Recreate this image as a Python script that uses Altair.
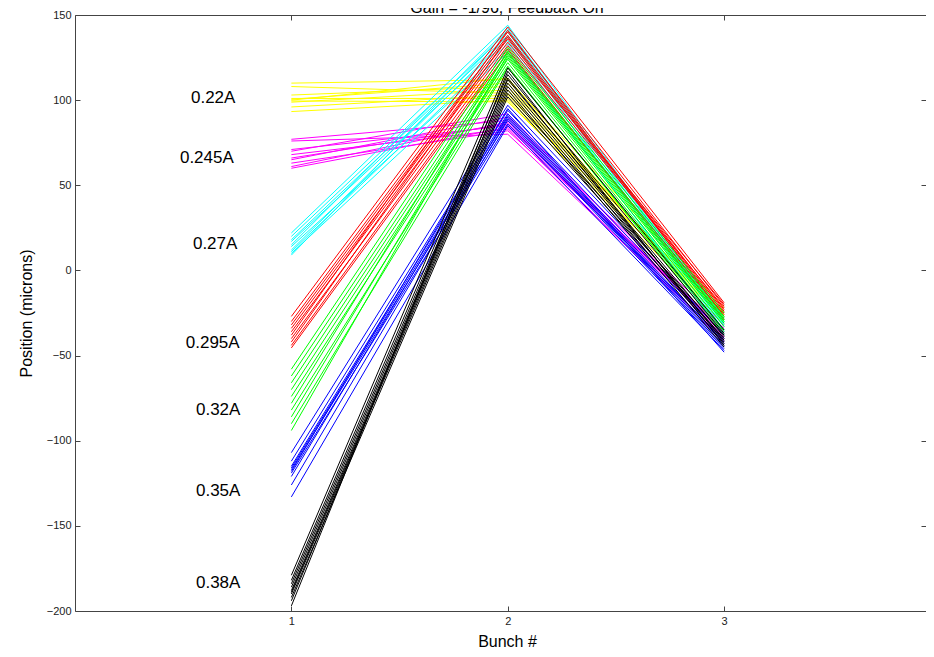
import altair as alt
import pandas as pd

# ---- data ----
bunches = [1, 2, 3]
currents = ["0.22A", "0.245A", "0.27A", "0.295A", "0.32A", "0.35A", "0.38A"]
colors = ["#ffff00", "#ff00ff", "#00ffff", "#ff0000", "#00ff00", "#0000ff", "#000000"]

a022_b1 = [110, 108, 103, 101, 100.5, 100, 99.5, 98.8, 96, 93.3]
a022_b2 = [112, 104, 108, 101, 110, 113, 99, 106, 103, 100]
a022_b3 = [-22, -25, -28, -24, -30, -32, -27, -26, -29, -31]

a0245_b1 = [77, 76, 71, 70, 68, 66, 65, 63, 61, 60]
a0245_b2 = [88, 80, 85, 92, 83, 86, 90, 82, 87, 84]
a0245_b3 = [-32, -40, -35, -38, -42, -36, -39, -34, -41, -37]

a027_b1 = [22, 20, 18, 17, 15, 14, 12, 11, 10, 9]
a027_b2 = [144, 140, 138, 135, 142, 130, 137, 133, 128, 141]
a027_b3 = [-28, -32, -30, -35, -29, -38, -33, -31, -36, -30]

a0295_b1 = [-27, -30, -32, -34, -36, -38, -40, -42, -44, -45.5]
a0295_b2 = [143, 140, 138, 136, 134, 141, 132, 137, 130, 128]
a0295_b3 = [-19, -21, -23, -25, -20, -27, -22, -24, -29, -26]

a032_b1 = [-58, -62, -66, -70, -74, -78, -82, -86, -90, -94]
a032_b2 = [131, 128, 126, 124, 122, 129, 120, 125, 119, 127]
a032_b3 = [-25, -28, -30, -33, -35, -27, -38, -31, -36, -29]

a035_b1 = [-107, -112, -115, -116, -117, -118, -119, -121, -126, -133]
a035_b2 = [97, 94, 92, 90, 88, 95, 86, 91, 89, 85]
a035_b3 = [-38, -40, -42, -44, -46, -48, -41, -43, -45, -47]

a038_b1 = [-179, -182, -184, -186, -188, -189, -190, -192, -194, -197]
a038_b2 = [119, 115, 112, 110, 108, 106, 104, 102, 113, 117]
a038_b3 = [-35, -37, -39, -41, -43, -45, -38, -40, -42, -44]

label_x = [0.536, 0.485, 0.545, 0.512, 0.559, 0.559, 0.559]
label_y = [101, 66, 15.5, -42.6, -82, -129.6, -183.6]

y_ticks = [-200, -150, -100, -50, 0, 50, 100, 150]
x_ticks = [1, 2, 3]
title_text = "Gain = -1/96, Feedback On"

groups = [
    (a022_b1, a022_b2, a022_b3),
    (a0245_b1, a0245_b2, a0245_b3),
    (a027_b1, a027_b2, a027_b3),
    (a0295_b1, a0295_b2, a0295_b3),
    (a032_b1, a032_b2, a032_b3),
    (a035_b1, a035_b2, a035_b3),
    (a038_b1, a038_b2, a038_b3),
]

rows = []
for gi, (cur, series) in enumerate(zip(currents, groups)):
    for li in range(len(series[0])):
        for bi, b in enumerate(bunches):
            rows.append({"current": cur, "line": f"{gi}_{li:02d}", "bunch": b,
                         "pos": series[bi][li]})
df = pd.DataFrame(rows)
labels_df = pd.DataFrame({"current": currents, "x": label_x, "y": label_y})

FONT = "Liberation Sans"
xscale = alt.Scale(domain=[0, 3.933], nice=False, zero=False)
yscale = alt.Scale(domain=[-200, 150], nice=False, zero=False)
inward = alt.ExprRef(expr="-5")

lines = alt.Chart(df).mark_line(strokeWidth=1, clip=True).encode(
    x=alt.X("bunch:Q", scale=xscale,
            axis=alt.Axis(orient="bottom", values=x_ticks, format="d", title="Bunch #",
                          tickSize=inward, labelPadding=9, labelFontSize=11,
                          labelFont=FONT, labelColor="#222", titleFont=FONT,
                          titleFontSize=16, titleFontWeight="normal", titleColor="#000",
                          titleX=432, titleY=30, titleBaseline="middle",
                          domainColor="#444", tickColor="#444", grid=False)),
    y=alt.Y("pos:Q", scale=yscale,
            axis=alt.Axis(orient="left", values=y_ticks, format="d",
                          title="Position (microns)",
                          tickSize=inward, labelPadding=9, labelFontSize=11,
                          labelFont=FONT, labelColor="#222", titleFont=FONT,
                          titleFontSize=16, titleFontWeight="normal", titleColor="#000",
                          titlePadding=12, domainColor="#444", tickColor="#444",
                          grid=False)),
    color=alt.Color("current:N", scale=alt.Scale(domain=currents, range=colors),
                    legend=None),
    detail="line:N",
)

texts = alt.Chart(labels_df).mark_text(
    align="left", baseline="middle", fontSize=17, font=FONT, color="#000"
).encode(
    x=alt.X("x:Q", scale=xscale,
            axis=alt.Axis(orient="top", values=x_ticks, labels=False, title=None,
                          tickSize=inward, domainColor="#444", tickColor="#444",
                          grid=False)),
    y=alt.Y("y:Q", scale=yscale,
            axis=alt.Axis(orient="right", values=y_ticks, labels=False, title=None,
                          tickSize=inward, domain=False, tickColor="#444",
                          grid=False)),
    text="current:N",
)

title_df = pd.DataFrame({"t": [title_text]})
title_mark = alt.Chart(title_df).mark_text(
    align="center", baseline="alphabetic", fontSize=16, font=FONT, color="#000"
).encode(
    x=alt.value(432), y=alt.value(-2), text="t:N"
)

chart = alt.layer(lines, texts, title_mark).resolve_axis(
    x="independent", y="independent"
).properties(
    width=851, height=596,
    autosize=alt.AutoSizeParams(type="none"),
    padding={"left": 67, "top": 7, "right": 0, "bottom": 37},
).configure_view(stroke=None)

chart.save("out.html", embed_options={"renderer": "svg", "actions": False})
